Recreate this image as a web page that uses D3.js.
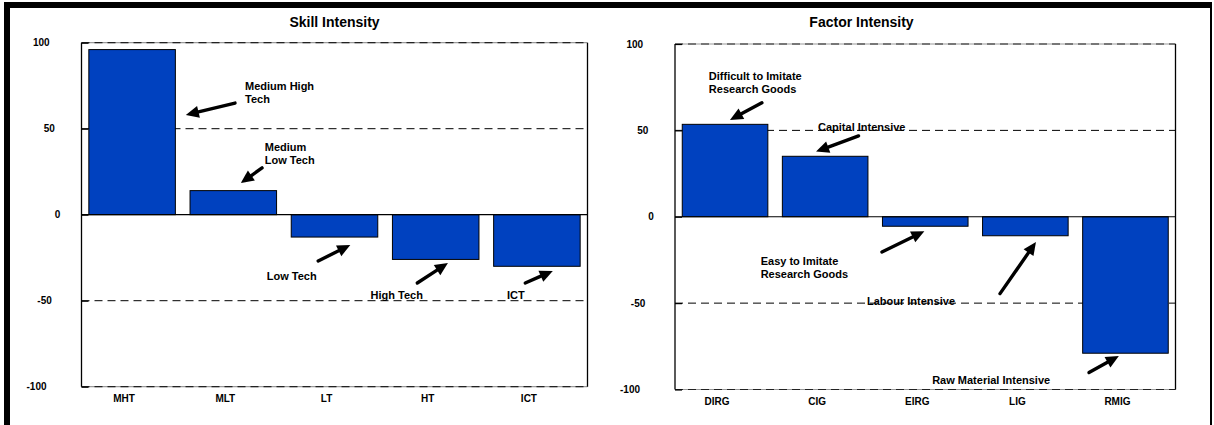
<!DOCTYPE html>
<html><head><meta charset="utf-8">
<script src="https://cdn.jsdelivr.net/npm/d3@7"></script>
<style>
html,body{margin:0;padding:0;background:#fff;overflow:hidden}
svg{display:block}
text{font-family:"Liberation Sans",Arial,Helvetica,sans-serif;font-weight:bold;fill:#000}
</style>
</head><body>
<svg id="c" width="1214" height="425"></svg>
<script>
// ---------- data ----------
const yTicks = [100, 50, 0, -50, -100];
const gridValues = [50, -50];

const skillTitle = "Skill Intensity";
const skillCategories = ["MHT", "MLT", "LT", "HT", "ICT"];
const skillValues = [96, 14, -13, -26, -30];
const skillNoteTexts = [["Medium High", "Tech"], ["Medium", "Low Tech"], ["Low Tech"], ["High Tech"], ["ICT"]];
// annotation anchors in data units: [band position (0..5), value]
const skillNoteAt = [[1.616, 74.8], [1.811, 39.4], [1.830, -35.6], [2.856, -46.7], [4.205, -46.7]];
const skillArrowFrom = [[1.517, 64.9], [1.784, 27.2], [2.339, -26.9], [3.318, -39.7], [4.385, -39.7]];
const skillArrowTo = [[1.031, 58.0], [1.574, 18.4], [2.656, -17.6], [3.621, -28.1], [4.657, -32.7]];

const factorTitle = "Factor Intensity";
const factorCategories = ["DIRG", "CIG", "EIRG", "LIG", "RMIG"];
const factorValues = [53.5, 35, -5.5, -11, -79];
const factorNoteTexts = [["Difficult to Imitate", "Research Goods"], ["Capital Intensive"], ["Easy to Imitate", "Research Goods"], ["Labour Intensive"], ["Raw Material Intensive"]];
const factorNoteAt = [[0.338, 81.5], [1.429, 51.8], [0.856, -25.8], [1.918, -48.9], [2.569, -94.6]];
const factorArrowFrom = [[0.868, 66.0], [1.834, 46.8], [2.067, -20.4], [3.247, -44.5], [4.136, -90.2]];
const factorArrowTo = [[0.549, 56.0], [1.409, 37.7], [2.491, -8.4], [3.606, -14.6], [4.434, -80.6]];

// ---------- layout ----------
const svg = d3.select("#c");
const BAR = "#0041bf";

// outer frame
svg.append("rect").attr("x", 4).attr("y", 2).attr("width", 1208).attr("height", 6).attr("fill", "#000");
svg.append("rect").attr("x", 4).attr("y", 2).attr("width", 6).attr("height", 425).attr("fill", "#000");
svg.append("rect").attr("x", 1210).attr("y", 2).attr("width", 2).attr("height", 425).attr("fill", "#000");

function drawPanel(cfg) {
  const g = svg.append("g");
  const x = d3.scaleBand().domain(cfg.categories).range([cfg.x0, cfg.x1])
    .paddingInner(0.145).paddingOuter(0.0725);
  const u = d3.scaleLinear().domain([0, cfg.categories.length]).range([cfg.x0, cfg.x1]);
  const y = d3.scaleLinear().domain([-100, 100]).range([cfg.yBot, cfg.yTop]);

  // top / bottom edges: grey solid with black dashes
  [100, -100].forEach(v => {
    g.append("line").attr("x1", cfg.x0).attr("x2", cfg.x1).attr("y1", y(v)).attr("y2", y(v))
      .attr("stroke", "#9a9a9a").attr("stroke-width", 1.2);
    g.append("line").attr("x1", cfg.x0).attr("x2", cfg.x1).attr("y1", y(v)).attr("y2", y(v))
      .attr("stroke", "#222").attr("stroke-width", 1.2).attr("stroke-dasharray", "8,5");
  });
  // dashed grid
  g.selectAll(".grid").data(gridValues).join("line")
    .attr("x1", cfg.x0).attr("x2", cfg.x1)
    .attr("y1", d => y(d)).attr("y2", d => y(d))
    .attr("stroke", "#000").attr("stroke-width", 1).attr("stroke-dasharray", "8,5");
  // side edges
  [cfg.x0, cfg.x1].forEach(xx => {
    g.append("line").attr("x1", xx).attr("x2", xx).attr("y1", cfg.yTop).attr("y2", cfg.yBot)
      .attr("stroke", "#000").attr("stroke-width", 1.3);
  });

  // bars
  g.selectAll(".bar").data(cfg.values).join("rect")
    .attr("x", (d, i) => x(cfg.categories[i]))
    .attr("width", x.bandwidth())
    .attr("y", d => y(Math.max(0, d)))
    .attr("height", d => Math.abs(y(d) - y(0)))
    .attr("fill", BAR).attr("stroke", "#000").attr("stroke-width", 1);

  // zero line
  g.append("line").attr("x1", cfg.x0).attr("x2", cfg.x1).attr("y1", y(0)).attr("y2", y(0))
    .attr("stroke", "#000").attr("stroke-width", 1.2);

  // y axis
  const ya = g.append("g").attr("transform", `translate(${cfg.x0},0)`)
    .call(d3.axisLeft(y).tickValues(yTicks).tickSize(-7).tickPadding(16).tickFormat(d => String(d)));
  ya.select(".domain").remove();
  ya.selectAll("line").attr("stroke", "#000").attr("stroke-width", 1.2);
  ya.selectAll("text").attr("font-size", 10).attr("font-family", null).attr("fill", "#000")
    .each(function () {
      const w = this.getComputedTextLength();
      d3.select(this).attr("dx", -0.95 * w);
    });

  // x axis
  const xa = g.append("g").attr("transform", `translate(0,${cfg.yBot})`)
    .call(d3.axisBottom(x).tickSize(0).tickPadding(8));
  xa.select(".domain").remove();
  xa.selectAll("text").attr("font-size", 10).attr("font-family", null).attr("fill", "#000").attr("dx", -8);

  // title
  g.append("text").attr("x", u(cfg.titleAt)).attr("y", cfg.titleY)
    .attr("text-anchor", "middle").attr("font-size", 14).text(cfg.title);

  // annotations
  cfg.noteTexts.forEach((lines, i) => {
    const t = g.append("text").attr("font-size", 11)
      .attr("x", u(cfg.noteAt[i][0])).attr("y", y(cfg.noteAt[i][1]) + 4);
    lines.forEach((ln, j) => {
      t.append("tspan").attr("x", u(cfg.noteAt[i][0])).attr("dy", j === 0 ? 0 : 13).text(ln);
    });
    const x1 = u(cfg.arrowFrom[i][0]), y1 = y(cfg.arrowFrom[i][1]);
    const x2 = u(cfg.arrowTo[i][0]), y2 = y(cfg.arrowTo[i][1]);
    const ang = Math.atan2(y2 - y1, x2 - x1);
    const hl = 13, hw = 6;
    const bx = x2 - hl * Math.cos(ang), by = y2 - hl * Math.sin(ang);
    g.append("line").attr("x1", x1).attr("y1", y1).attr("x2", bx).attr("y2", by)
      .attr("stroke", "#000").attr("stroke-width", 3.4).attr("stroke-linecap", "round");
    const px = -Math.sin(ang), py = Math.cos(ang);
    g.append("path")
      .attr("d", `M${x2},${y2}L${bx + hw * px},${by + hw * py}L${bx - hw * px},${by - hw * py}Z`)
      .attr("fill", "#000");
  });
}

drawPanel({
  title: skillTitle, titleAt: 2.5, titleY: 27,
  categories: skillCategories, values: skillValues,
  noteTexts: skillNoteTexts, noteAt: skillNoteAt, arrowFrom: skillArrowFrom, arrowTo: skillArrowTo,
  x0: 81.5, x1: 587.5, yTop: 42.7, yBot: 386.7
});
drawPanel({
  title: factorTitle, titleAt: 1.863, titleY: 27.3,
  categories: factorCategories, values: factorValues,
  noteTexts: factorNoteTexts, noteAt: factorNoteAt, arrowFrom: factorArrowFrom, arrowTo: factorArrowTo,
  x0: 675, x1: 1175.5, yTop: 44, yBot: 389.5
});
</script>
</body></html>
